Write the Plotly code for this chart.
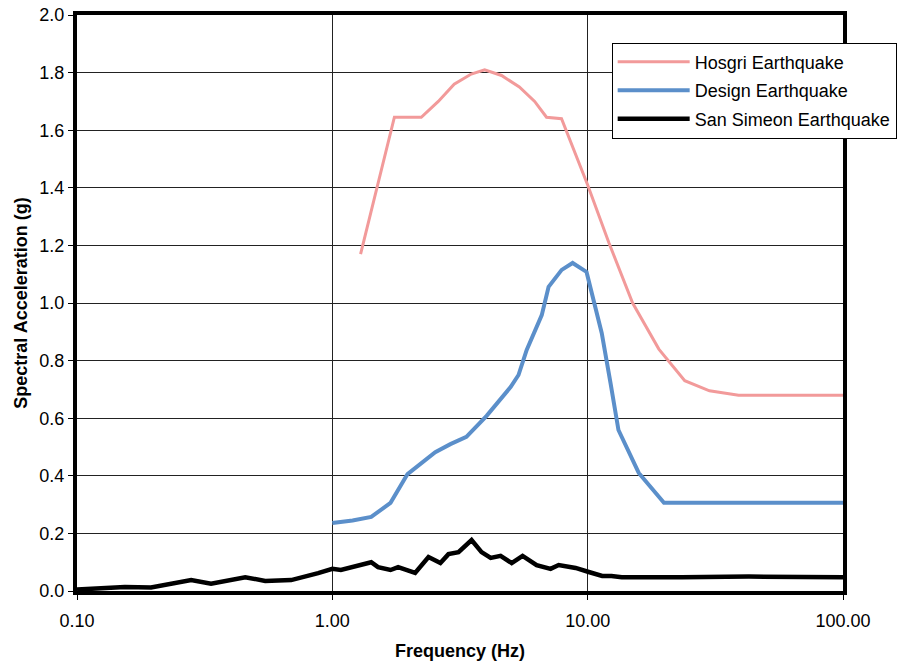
import plotly.graph_objects as go

# Hosgri Earthquake
hosgri_f = [1.29, 1.75, 2.23, 2.6, 3.0, 3.5, 3.95, 4.6, 5.4, 6.2, 6.9, 7.9, 10.0, 12.1, 15.0, 19.0, 24.0, 30.0, 39.0, 60.0, 100.0]
hosgri_a = [1.17, 1.645, 1.645, 1.70, 1.76, 1.795, 1.81, 1.79, 1.75, 1.70, 1.645, 1.64, 1.41, 1.21, 1.0, 0.84, 0.73, 0.695, 0.68, 0.68, 0.68]

# Design Earthquake
design_f = [1.0, 1.2, 1.42, 1.69, 1.97, 2.25, 2.53, 2.9, 3.35, 4.02, 4.99, 5.36, 5.77, 6.61, 7.03, 7.91, 8.73, 9.9, 11.35, 12.3, 13.2, 15.85, 19.9, 40.0, 100.0]
design_a = [0.236, 0.245, 0.257, 0.306, 0.406, 0.445, 0.482, 0.51, 0.535, 0.608, 0.708, 0.75, 0.837, 0.958, 1.056, 1.115, 1.139, 1.108, 0.896, 0.72, 0.559, 0.41, 0.306, 0.306, 0.306]

# San Simeon Earthquake
simeon_f = [0.1, 0.154, 0.195, 0.28, 0.335, 0.456, 0.546, 0.69, 0.88, 1.0, 1.08, 1.42, 1.51, 1.69, 1.81, 2.11, 2.38, 2.65, 2.85, 3.12, 3.51, 3.84, 4.17, 4.56, 5.04, 5.56, 6.31, 7.16, 7.7, 8.97, 10.1, 11.4, 12.4, 13.6, 23.4, 42.8, 100.0]
simeon_a = [0.005, 0.014, 0.012, 0.038, 0.025, 0.048, 0.035, 0.038, 0.062, 0.077, 0.073, 0.10, 0.083, 0.073, 0.083, 0.063, 0.118, 0.097, 0.128, 0.135, 0.177, 0.135, 0.115, 0.122, 0.097, 0.122, 0.09, 0.077, 0.09, 0.08, 0.066, 0.052, 0.052, 0.048, 0.048, 0.05, 0.048]

x_ticks = [0.1, 1, 10, 100]
x_labels = ["0.10", "1.00", "10.00", "100.00"]

font = "Arial, Liberation Sans, sans-serif"

fig = go.Figure()
fig.add_trace(go.Scatter(x=hosgri_f, y=hosgri_a, mode="lines", name="Hosgri Earthquake",
                         legendgroup="h", line=dict(color="#f29a9a", width=3)))
fig.add_trace(go.Scatter(x=design_f, y=design_a, mode="lines", name="Design Earthquake",
                         legendgroup="d", line=dict(color="#5b8fca", width=4)))
fig.add_trace(go.Scatter(x=simeon_f, y=simeon_a, mode="lines", name="San Simeon Earthquake",
                         legendgroup="s", line=dict(color="black", width=4.5)))

fig.update_layout(
    width=901, height=664,
    margin=dict(l=77, r=58, t=15, b=73, autoexpand=False),
    paper_bgcolor="white", plot_bgcolor="white",
    font=dict(family=font, size=18, color="black"),
    legend=dict(x=0.698, y=0.952, xanchor="left", yanchor="top",
                bgcolor="white", bordercolor="black", borderwidth=1,
                font=dict(size=18), itemwidth=72, tracegroupgap=2),
    showlegend=True,
)
fig.update_xaxes(type="log", range=[-1, 2], tickvals=x_ticks, ticktext=x_labels,
                 showgrid=True, gridcolor="#222", gridwidth=1,
                 showline=True, linecolor="black", linewidth=4, mirror=True,
                 ticks="outside", ticklen=5, tickcolor="black", ticklabelstandoff=5,
                 title=dict(text="<b>Frequency (Hz)</b>", font=dict(size=18), standoff=16),
                 zeroline=False)
fig.update_yaxes(range=[0, 2], dtick=0.2, tickformat=".1f",
                 showgrid=True, gridcolor="#222", gridwidth=1,
                 showline=True, linecolor="black", linewidth=4, mirror=True,
                 ticks="outside", ticklen=5, tickcolor="black",
                 title=dict(text="<b>Spectral Acceleration (g)</b>", font=dict(size=18), standoff=8),
                 zeroline=False)

fig.write_html("out.html")
